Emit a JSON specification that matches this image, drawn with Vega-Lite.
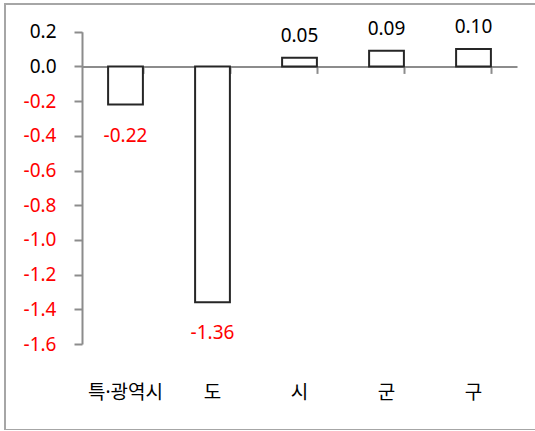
{
  "$schema": "https://vega.github.io/schema/vega-lite/v6.json",
  "width": 530,
  "height": 426,
  "autosize": {"type": "none"},
  "padding": {"left": 5, "top": 4, "right": 0, "bottom": 0},
  "background": "white",
  "config": {
    "view": {"stroke": "#a6a6a6", "strokeWidth": 2, "strokeDash": [530, 426, 956]},
    "font": "Noto Sans"
  },
  "data": {"values": [
    {"cat": "특·광역시", "v": -0.22, "label": "-0.22"},
    {"cat": "도", "v": -1.36, "label": "-1.36"},
    {"cat": "시", "v": 0.05, "label": "0.05"},
    {"cat": "군", "v": 0.09, "label": "0.09"},
    {"cat": "구", "v": 0.10, "label": "0.10"}
  ]},
  "encoding": {
    "y": {
      "field": "v", "type": "quantitative",
      "scale": {"domain": [-1.6, 0.2], "range": [340, 27.7], "nice": false, "zero": false},
      "axis": {
        "orient": "left", "offset": -77, "title": null, "grid": false,
        "values": [0.2, 0, -0.2, -0.4, -0.6, -0.8, -1.0, -1.2, -1.4, -1.6],
        "labelExpr": "datum.value < 0 ? '-' + format(-datum.value, '.1f') : format(datum.value, '.1f')",
        "domainColor": "#8c8c8c", "domainWidth": 2,
        "tickColor": "#8c8c8c", "tickWidth": 2, "tickSize": 8,
        "labelFont": "Noto Sans", "labelFontSize": 19, "labelPadding": 18,
        "labelColor": {"condition": {"test": "datum.value < 0", "value": "#ff0000"}, "value": "#000000"}
      }
    }
  },
  "layer": [
    {
      "mark": {"type": "bar", "fill": "white", "stroke": "#262626", "strokeWidth": 2},
      "encoding": {
        "x": {
          "field": "cat", "type": "nominal", "sort": null,
          "scale": {"range": [77, 512], "paddingInner": 0.6, "paddingOuter": 0.3},
          "axis": {
            "orient": "bottom", "offset": -363.6, "title": null, "labels": false,
            "domainColor": "#8c8c8c", "domainWidth": 2,
            "tickColor": "#8c8c8c", "tickWidth": 2, "tickSize": 7, "tickBand": "extent"
          }
        },
        "y2": {"datum": 0}
      }
    },
    {
      "transform": [{"filter": "datum.v < 0"}],
      "mark": {"type": "text", "baseline": "top", "dy": 22, "fontSize": 19, "font": "Noto Sans", "color": "#ff0000"},
      "encoding": {
        "x": {
          "field": "cat", "type": "nominal", "sort": null,
          "axis": {
            "orient": "bottom", "offset": -47, "title": null, "domain": false, "ticks": false,
            "labelPadding": 0, "labelAngle": 0, "labelFont": "Noto Sans, Noto Sans CJK KR",
            "labelFontSize": 19, "labelColor": "#000000"
          }
        },
        "text": {"field": "label"}
      }
    },
    {
      "transform": [{"filter": "datum.v >= 0"}],
      "mark": {"type": "text", "baseline": "alphabetic", "dy": -16, "fontSize": 19, "font": "Noto Sans", "color": "#000000"},
      "encoding": {
        "x": {"field": "cat", "type": "nominal", "sort": null, "axis": null},
        "text": {"field": "label"}
      }
    }
  ],
  "resolve": {"axis": {"x": "independent"}}
}
